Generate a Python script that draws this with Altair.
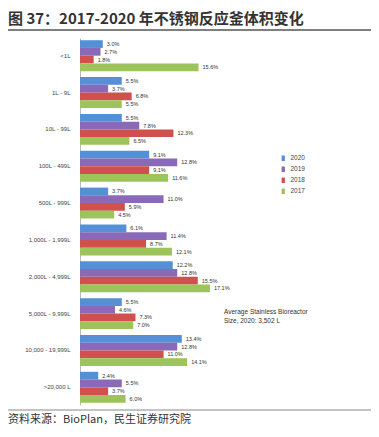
import altair as alt
import pandas as pd

sizes = ["<1L", "1L - 9L", "10L - 99L", "100L - 499L", "500L - 999L",
         "1,000L - 1,999L", "2,000L - 4,999L", "5,000L - 9,999L",
         "10,000 - 19,999L", ">20,000 L"]
years = ["2020", "2019", "2018", "2017"]
v2020 = [3.0, 5.5, 5.5, 9.1, 3.7, 6.1, 12.2, 5.5, 13.4, 2.4]
v2019 = [2.7, 3.7, 7.8, 12.8, 11.0, 11.4, 12.8, 4.6, 12.8, 5.5]
v2018 = [1.8, 6.8, 12.3, 9.1, 5.9, 8.7, 15.5, 7.3, 11.0, 3.7]
v2017 = [15.6, 5.5, 6.5, 11.6, 4.5, 12.1, 17.1, 7.0, 14.1, 6.0]
colors = ["#5590D6", "#8A6AB8", "#D0504D", "#9DC35B"]

rows = []
for y, vals in zip(years, [v2020, v2019, v2018, v2017]):
    for s, v in zip(sizes, vals):
        rows.append({"size": s, "year": y, "value": v})
df = pd.DataFrame(rows)

title_text = "图 37：2017-2020 年不锈钢反应釜体积变化"
source_text = "资料来源：BioPlan，民生证券研究院"
note_lines = ["Average Stainless Bioreactor", "Size, 2020:  3,502 L"]

W, H = 291, 367
LEFT = 72

base = alt.Chart(df).encode(
    y=alt.Y("size:N", sort=sizes,
            scale=alt.Scale(paddingInner=0.16, paddingOuter=0.06),
            axis=alt.Axis(title=None, ticks=False, labelFontSize=6,
                          labelColor="#444", labelPadding=10,
                          domainColor="#bbb", labelFont="Liberation Sans")),
    yOffset=alt.YOffset("year:N", sort=years, scale=alt.Scale(paddingInner=0, paddingOuter=0)),
    x=alt.X("value:Q", scale=alt.Scale(domain=[0, 38.3]), axis=None),
)

bars = base.mark_bar().encode(
    color=alt.Color("year:N", sort=years,
                    scale=alt.Scale(domain=years, range=colors),
                    legend=alt.Legend(orient="none", legendX=200, legendY=117,
                                      title=None,
                                      symbolType="M-0.6,-1L0.6,-1L0.6,1L-0.6,1Z",
                                      symbolSize=30, symbolStrokeWidth=0,
                                      labelFontSize=6.5, labelColor="#444",
                                      labelFont="Liberation Sans",
                                      rowPadding=4, labelOffset=4))
)

labels = base.mark_text(align="left", baseline="middle", dx=4, fontSize=5.5,
                        color="#333", font="Liberation Sans").transform_calculate(
    label="format(datum.value, '.1f') + '%'"
).encode(text="label:N")

one = alt.Chart(pd.DataFrame({"a": [0]}))

title = one.mark_text(align="left", baseline="middle", fontSize=15,
                      fontWeight="bold", font="Noto Sans CJK SC", color="#333").encode(
    x=alt.value(-LEFT), y=alt.value(-19), text=alt.value(title_text))

title_rule = one.mark_rule(color="#555", strokeWidth=1.5).encode(
    x=alt.value(-LEFT), x2=alt.value(W), y=alt.value(-8))

bottom_rule = one.mark_rule(color="#888", strokeWidth=1).encode(
    x=alt.value(-LEFT), x2=alt.value(W), y=alt.value(372))

source = one.mark_text(align="left", baseline="middle", fontSize=11,
                       font="Noto Sans CJK SC", color="#333").encode(
    x=alt.value(-LEFT), y=alt.value(382), text=alt.value(source_text))

note = one.mark_text(align="left", baseline="top", fontSize=6.5,
                     font="Liberation Sans", color="#333", lineHeight=9).encode(
    x=alt.value(144), y=alt.value(271), text=alt.value(note_lines))

chart = alt.layer(bars, labels, title, title_rule, bottom_rule, source, note).properties(
    width=W, height=H,
    padding={"left": LEFT, "top": 30, "right": 0, "bottom": 24},
    autosize=alt.AutoSizeParams(type="none"),
).configure_view(stroke=None)

chart.save("out.html", embed_options={"renderer": "svg", "actions": False})
